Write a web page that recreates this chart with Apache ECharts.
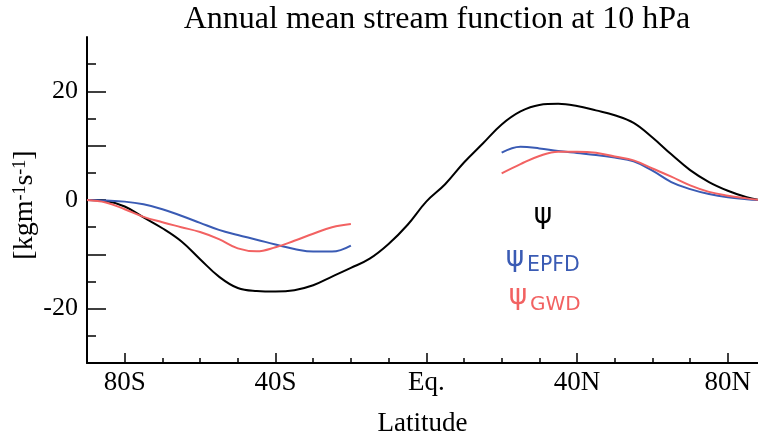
<!DOCTYPE html>
<html>
<head>
<meta charset="utf-8">
<script src="https://cdn.jsdelivr.net/npm/echarts@6/dist/echarts.min.js"></script>
<style>
  html, body { margin: 0; padding: 0; background: #fff; }
  #chart { width: 758px; height: 435px; }
</style>
</head>
<body>
<div id="chart"></div>
<script>
// latitude grid (deg, S negative)
const lats = [-90, -85, -80, -75, -70, -65, -60, -55, -50, -45, -40, -35, -30, -25, -20, -15, -10, -5,
  0, 5, 10, 15, 20, 25, 30, 35, 40, 45, 50, 55, 60, 65, 70, 75, 80, 85, 88];

// total stream function
const psi = [0, -0.2, -1.2, -3.2, -5.2, -7.6, -10.9, -14.1, -16.2, -16.75, -16.85, -16.6, -15.7, -14.1, -12.5, -10.8, -8.1, -4.6,
  -0.3, 2.9, 6.9, 10.4, 13.9, 16.3, 17.5, 17.7, 17.3, 16.5, 15.6, 14.2, 11.5, 8.4, 5.5, 3.3, 1.7, 0.5, 0.05];

// EP flux divergence part (no values in the tropics)
const psiEPFD = [0, -0.1, -0.3, -0.8, -1.7, -2.9, -4.2, -5.5, -6.45, -7.3, -8.2, -9.0, -9.5, -9.5, -8.4, null, null, null,
  null, null, null, null, 8.7, 9.8, 9.5, 9.0, 8.65, 8.3, 7.8, 7.1, 5.4, 3.3, 2.0, 1.1, 0.5, 0.15, 0];

// gravity wave drag part
const psiGWD = [0, -0.45, -1.7, -3.1, -4.1, -5.0, -5.9, -7.2, -8.9, -9.45, -8.7, -7.5, -6.2, -5.0, -4.4, null, null, null,
  null, null, null, null, 4.9, 6.6, 8.1, 8.9, 8.9, 8.7, 8.0, 7.3, 5.8, 4.3, 2.7, 1.5, 0.8, 0.3, 0.05];

const majorLat = [-80, -40, 0, 40, 80];
const minorLat = [-70, -60, -50, -30, -20, -10, 10, 20, 30, 50, 60, 70];
const majorVal = [-20, -10, 0, 10, 20];
const minorVal = [-25, -15, -5, 5, 15, 25];
const labelVal = [-20, 0, 20];

const serif = '"Liberation Serif", "DejaVu Serif", serif';
const sans = '"DejaVu Sans", "Liberation Sans", sans-serif';
const BLUE = '#3a5bb4';
const RED = '#f26262';

const pairs = (ys) => lats.map((x, i) => [x, ys[i]]);
const latName = (v) => v === 0 ? 'Eq.' : (Math.abs(v) + (v < 0 ? 'S' : 'N'));

const chart = echarts.init(document.getElementById('chart'), null, { renderer: 'canvas' });

const lineSeries = (data, color) => ({
  type: 'line',
  xAxisIndex: 0,
  yAxisIndex: 0,
  data: pairs(data),
  smooth: 0.4,
  showSymbol: false,
  connectNulls: false,
  lineStyle: { color, width: 2 },
  silent: true,
  z: 3,
});

const option = {
  animation: false,
  backgroundColor: '#fff',
  title: {
    text: 'Annual mean stream function at 10 hPa',
    left: 432,
    textAlign: 'center',
    top: -1,
    textStyle: { fontFamily: serif, fontWeight: 'normal', fontSize: 32, color: '#000' },
  },
  grid: { left: 87, right: 0, top: 37, bottom: 72, containLabel: false, outerBoundsMode: 'none' },
  xAxis: [
    {
      type: 'value', min: -90, max: 88, position: 'bottom',
      axisLine: { onZero: false, lineStyle: { color: '#000', width: 2 } },
      axisTick: { inside: true, length: 5, customValues: minorLat, lineStyle: { color: '#000', width: 1.5 } },
      axisLabel: { show: false },
      splitLine: { show: false },
    },
    {
      type: 'value', min: -90, max: 88, position: 'bottom',
      axisLine: { show: false, onZero: false },
      axisTick: { inside: true, length: 10, customValues: majorLat, lineStyle: { color: '#000', width: 1.5 } },
      axisLabel: {
        customValues: majorLat, formatter: latName, margin: 6,
        fontFamily: serif, fontSize: 27, color: '#000',
      },
      splitLine: { show: false },
      name: 'Latitude', nameLocation: 'middle', nameGap: 47,
      nameTextStyle: { fontFamily: serif, fontSize: 27, color: '#000' },
    },
  ],
  yAxis: [
    {
      type: 'value', min: -30, max: 30, position: 'left',
      axisLine: { onZero: false, lineStyle: { color: '#000', width: 2 } },
      axisTick: { inside: true, length: 9, customValues: minorVal, lineStyle: { color: '#000', width: 1.5 } },
      axisLabel: { show: false },
      splitLine: { show: false },
    },
    {
      type: 'value', min: -30, max: 30, position: 'left',
      axisLine: { show: false, onZero: false },
      axisTick: { inside: true, length: 19, customValues: majorVal, lineStyle: { color: '#000', width: 1.5 } },
      axisLabel: {
        customValues: labelVal, margin: 9,
        fontFamily: serif, fontSize: 26, color: '#000',
      },
      splitLine: { show: false },
    },
  ],
  graphic: [
    {
      type: 'text', x: 25, y: 205, rotation: Math.PI / 2,
      style: {
        text: '{b|[kgm}{s|-1}{b|s}{s|-1}{b|]}',
        align: 'center', verticalAlign: 'middle',
        rich: {
          b: { fontFamily: serif, fontSize: 28, fill: '#000', verticalAlign: 'bottom' },
          s: { fontFamily: serif, fontSize: 18, fill: '#000', verticalAlign: 'top' },
        },
      },
    },
    { type: 'text', x: 543, y: 216, style: { text: 'ψ', font: '28px ' + sans, fill: '#000', align: 'center', verticalAlign: 'middle' } },
    { type: 'text', x: 515, y: 259, style: { text: 'ψ', font: '28px ' + sans, fill: BLUE, align: 'center', verticalAlign: 'middle' } },
    { type: 'text', x: 527, y: 266, style: { text: 'EPFD', font: '20.5px ' + sans, fill: BLUE, align: 'left', verticalAlign: 'middle' } },
    { type: 'text', x: 518, y: 297, style: { text: 'ψ', font: '28px ' + sans, fill: RED, align: 'center', verticalAlign: 'middle' } },
    { type: 'text', x: 530, y: 305, style: { text: 'GWD', font: '20px ' + sans, fill: RED, align: 'left', verticalAlign: 'middle' } },
  ],
  series: [
    lineSeries(psi, '#000'),
    lineSeries(psiEPFD, BLUE),
    lineSeries(psiGWD, RED),
  ],
};

chart.setOption(option);
</script>
</body>
</html>
